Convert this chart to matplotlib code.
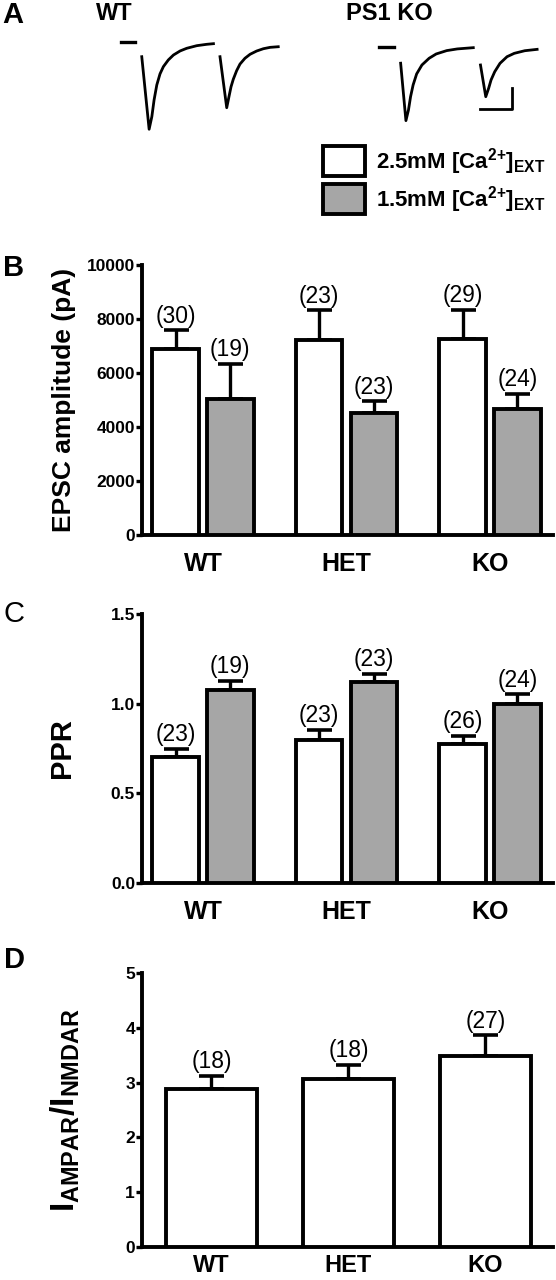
import numpy as np
import matplotlib
matplotlib.use('Agg')
import matplotlib.pyplot as plt

plt.rcParams['font.family'] = ['Liberation Sans', 'DejaVu Sans']
plt.rcParams['mathtext.fontset'] = 'custom'
plt.rcParams['mathtext.rm'] = 'Liberation Sans'
plt.rcParams['mathtext.bf'] = 'Liberation Sans:bold'

# ---- data ----
genotypes = ['WT', 'HET', 'KO']

# B: EPSC amplitude (pA)
epsc_25 = [6880, 7220, 7250]
epsc_25_sem = [700, 1100, 1080]
epsc_25_n = [30, 23, 29]
epsc_15 = [5040, 4520, 4670]
epsc_15_sem = [1310, 430, 550]
epsc_15_n = [19, 23, 24]

# C: paired pulse ratio
ppr_25 = [0.70, 0.80, 0.775]
ppr_25_sem = [0.047, 0.052, 0.047]
ppr_25_n = [23, 23, 26]
ppr_15 = [1.076, 1.119, 0.998]
ppr_15_sem = [0.050, 0.048, 0.054]
ppr_15_n = [19, 23, 24]

# D: AMPAR/NMDAR ratio
ratio = [2.89, 3.07, 3.48]
ratio_sem = [0.23, 0.25, 0.38]
ratio_n = [18, 18, 27]

# A: example traces (time ms, current nA)
wt_25_t = [0, 4.6, 6.3, 7.7, 9.4, 11.4, 13.5, 16.6, 19.8, 24.0, 28.1, 34.4, 40.6, 44.8]
wt_25_i = [-1.26, -8.17, -6.97, -5.38, -3.95, -2.90, -2.21, -1.57, -1.10, -0.71, -0.46, -0.21, -0.08, -0.02]
wt_15_t = [0, 4.2, 5.6, 6.9, 8.3, 10.4, 12.5, 15.6, 18.8, 22.9, 27.1, 31.3, 36.4]
wt_15_i = [-0.97, -5.83, -4.78, -3.83, -3.12, -2.30, -1.67, -1.12, -0.74, -0.43, -0.21, -0.08, -0.02]
ko_25_t = [0, 3.3, 4.9, 6.2, 7.8, 10.0, 13.3, 17.8, 22.2, 28.8, 35.4, 45.4]
ko_25_i = [-1.50, -6.97, -5.95, -4.69, -3.57, -2.52, -1.67, -1.03, -0.62, -0.30, -0.14, -0.02]
ko_15_t = [0, 3.3, 5.1, 6.6, 8.9, 12.2, 16.6, 21.1, 27.7, 35.4]
ko_15_i = [-1.57, -4.59, -3.79, -3.00, -2.21, -1.41, -0.78, -0.46, -0.21, -0.08]

W, H = 556, 1280
fig = plt.figure(figsize=(W / 100, H / 100), dpi=100)


def rect(left, top, right, bottom):
    return [left / W, 1 - bottom / H, (right - left) / W, (bottom - top) / H]


white = 'white'
grey = '#a6a6a6'
lw = 2.8


def style_axes(ax, xpad=12, xsize=18):
    for s in ['top', 'right']:
        ax.spines[s].set_visible(False)
    for s in ['left', 'bottom']:
        ax.spines[s].set_linewidth(2.8)
    ax.tick_params(axis='y', length=4, width=2.4, pad=1, labelsize=12.5)
    ax.tick_params(axis='x', length=0, pad=xpad, labelsize=xsize)
    ax.set_xticks(range(3))
    ax.set_xticklabels(genotypes, fontweight='bold')
    for t in ax.get_yticklabels():
        t.set_fontweight('bold')


def draw_bars(ax, vals, sems, ns, color, offset, width):
    x = np.arange(len(vals)) + offset
    bars = ax.bar(x, vals, width, color=color, edgecolor='black', linewidth=lw, zorder=3)
    ax.errorbar(x, vals, yerr=[np.zeros(len(vals)), sems], fmt='none', ecolor='black',
                elinewidth=2.4, capsize=9, capthick=2.6, zorder=2)
    for xi, v, s, n in zip(x, vals, sems, ns):
        ax.annotate(f'({n})', (xi, v + s), xytext=(0, 2), textcoords='offset points',
                    ha='center', va='bottom', fontsize=16.5)
    return bars


# ---- panel A ----
ax_a = fig.add_axes(rect(0, 0, W, 140))
ax_a.set_xlim(0, W / 1.6)
ax_a.set_ylim(-140 / 10.5, 0)
ax_a.axis('off')
starts = [88.6, 137.5, 250.4, 300.3]
bases = [-4.14, -4.43, -4.52, -4.62]
for (t, i), t0, b in zip([(wt_25_t, wt_25_i), (wt_15_t, wt_15_i), (ko_25_t, ko_25_i), (ko_15_t, ko_15_i)],
                         starts, bases):
    ax_a.plot(t0 + np.array(t), b + np.array(i), color='black', lw=2.0, solid_joinstyle='round')
ax_a.plot([75.6, 84.4], [-4.0, -4.0], color='black', lw=2.4)
ax_a.plot([236.9, 246.3], [-4.48, -4.48], color='black', lw=2.4)
ax_a.plot([300, 320, 320], [-10.38, -10.38, -8.38], color='black', lw=2.0)

# ---- panel B ----
ax_b = fig.add_axes(rect(142, 265, 553, 535))
b1 = draw_bars(ax_b, epsc_25, epsc_25_sem, epsc_25_n, white, -0.19, 0.324)
b2 = draw_bars(ax_b, epsc_15, epsc_15_sem, epsc_15_n, grey, 0.19, 0.324)
ax_b.set_xlim(-0.425, 2.439)
ax_b.set_ylim(0, 10000)
ax_b.set_yticks([0, 2000, 4000, 6000, 8000, 10000])
style_axes(ax_b)
ax_b.set_ylabel('EPSC amplitude (pA)', fontsize=19, fontweight='bold')
ax_b.yaxis.set_label_coords(-0.16, 0.5)

fig.legend([b1[0], b2[0]],
           [r'2.5mM [Ca$^{\mathbf{2{+}}}$]$_{\mathbf{EXT}}$',
            r'1.5mM [Ca$^{\mathbf{2{+}}}$]$_{\mathbf{EXT}}$'],
           loc='upper left', bbox_to_anchor=(323 / W, 1 - 146 / H), frameon=False,
           borderpad=0, borderaxespad=0, prop={'size': 16, 'weight': 'bold'},
           handlelength=1.9, handleheight=1.68, labelspacing=0.32, handletextpad=0.5)

# ---- panel C ----
ax_c = fig.add_axes(rect(142, 614, 553, 883))
draw_bars(ax_c, ppr_25, ppr_25_sem, ppr_25_n, white, -0.19, 0.324)
draw_bars(ax_c, ppr_15, ppr_15_sem, ppr_15_n, grey, 0.19, 0.324)
ax_c.set_xlim(-0.425, 2.439)
ax_c.set_ylim(0, 1.5)
ax_c.set_yticks([0, 0.5, 1.0, 1.5])
ax_c.set_yticklabels(['0.0', '0.5', '1.0', '1.5'])
style_axes(ax_c)
ax_c.set_ylabel('PPR', fontsize=21, fontweight='bold')
ax_c.yaxis.set_label_coords(-0.16, 0.5)

# ---- panel D ----
ax_d = fig.add_axes(rect(142, 973, 553, 1247))
draw_bars(ax_d, ratio, ratio_sem, ratio_n, white, 0, 0.664)
ax_d.set_xlim(-0.507, 2.493)
ax_d.set_ylim(0, 5)
ax_d.set_yticks(range(6))
style_axes(ax_d, xpad=5, xsize=17)
ax_d.set_ylabel(r'$\mathbf{I_{AMPAR}/I_{NMDAR}}$', fontsize=24)
ax_d.yaxis.set_label_coords(-0.146, 0.5)

# ---- panel letters and titles ----
def px_text(x, y, s, **kw):
    fig.text(x / W, 1 - y / H, s, ha='center', va='center', **kw)


px_text(13, 15, 'A', fontsize=21, fontweight='bold')
px_text(14, 268, 'B', fontsize=21, fontweight='bold')
px_text(14, 614, 'C', fontsize=21)
px_text(14, 960, 'D', fontsize=21, fontweight='bold')
px_text(114, 14, 'WT', fontsize=17, fontweight='bold')
px_text(389, 14, 'PS1 KO', fontsize=17, fontweight='bold')

fig.savefig('out.png', dpi=100)
